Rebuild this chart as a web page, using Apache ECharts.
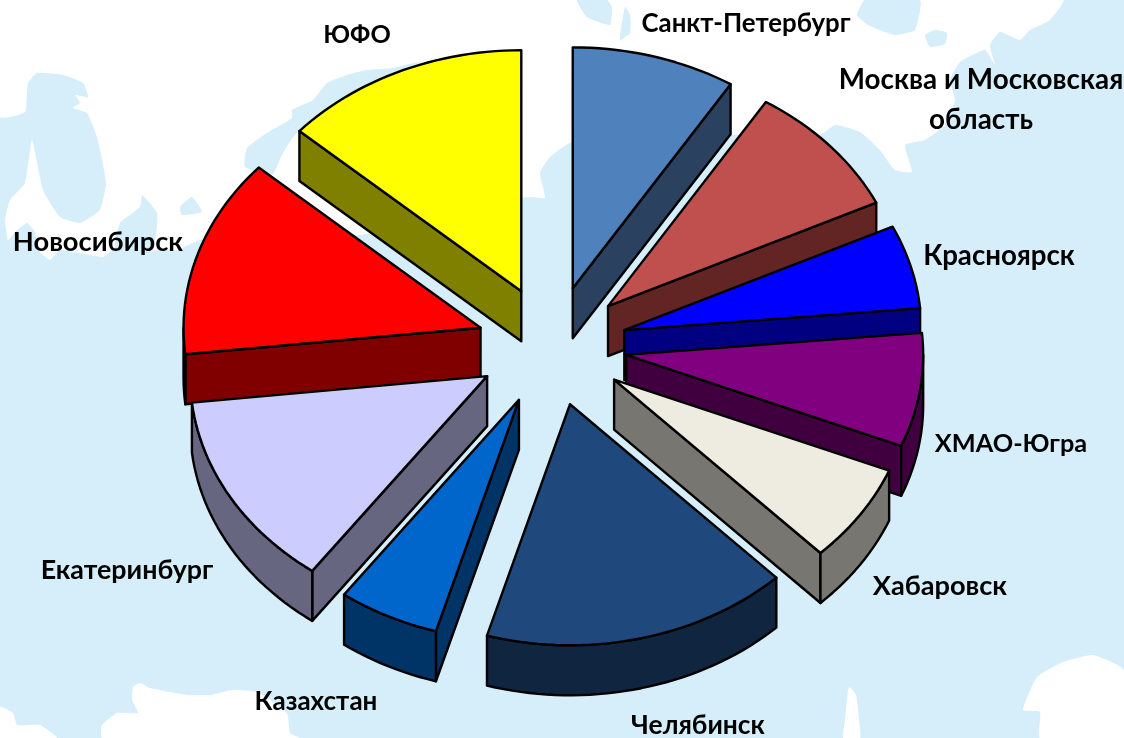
<!DOCTYPE html>
<html>
<head>
<meta charset="utf-8">
<title>Регионы</title>
<style>
  html, body { margin: 0; padding: 0; background: #d5eef9; }
  #chart { width: 1124px; height: 738px; }
</style>
<script src="https://cdn.jsdelivr.net/npm/echarts@6/dist/echarts.min.js"></script>
</head>
<body>
<div id="chart"></div>
<script>
// данные
const regions = ["Санкт-Петербург", "Москва и Московская\nобласть", "Красноярск", "ХМАО-Югра", "Хабаровск",
  "Челябинск", "Казахстан", "Екатеринбург", "Новосибирск", "ЮФО"];
const shares = [8.9, 9.0, 5.6, 7.6, 6.6, 16.7, 5.5, 13.2, 13.3, 13.4];

// цвета: верх и боковая стенка
const topColors = ["#4f81bd", "#c0504d", "#0000ff", "#800080", "#eeece1", "#1f497d", "#0066cc", "#ccccff", "#ff0000", "#ffff00"];
const wallColors = ["#2a4260", "#632523", "#000080", "#400040", "#777670", "#10253f", "#003366", "#666680", "#800000", "#808000"];

// положение и размер подписей
const labelAt = [[746, 24], [981, 100], [999, 256], [1011, 444], [940, 586], [698, 725], [316, 702], [127, 570], [98, 242], [357, 35]];
const labelSizes = [25.8, 27.8, 27.7, 25.3, 27.2, 26.4, 26, 26.8, 27.3, 25.2];

// геометрия псевдо-3D круга
const cx = 552, cy = 346;
const rx = 297, ry = 241;
const explodeX = 75, explodeY = 60;
const depth = 50;

const total = shares.reduce((a, b) => a + b, 0);
const slices = [];
let acc = 0;
shares.forEach(function (v) {
  let from = acc / total * Math.PI * 2;
  acc += v;
  let to = acc / total * Math.PI * 2;
  slices.push({ from: from, to: to, mid: (from + to) / 2 });
});

// дальние сектора рисуем первыми
const rank = [];
slices.map((s, i) => [Math.cos(s.mid), i]).sort((a, b) => b[0] - a[0]).forEach((p, n) => { rank[p[1]] = n; });

function renderSlice(params, api) {
  let i = params.dataIndex;
  let s = slices[i];
  let ax = cx + explodeX * Math.sin(s.mid);
  let ay = cy - explodeY * Math.cos(s.mid);
  let onRim = a => [ax + rx * Math.sin(a), ay - ry * Math.cos(a)];
  let down = p => [p[0], p[1] + depth];

  let rim = [];
  let steps = Math.ceil((s.to - s.from) / 0.03);
  for (let k = 0; k <= steps; k++) rim.push(onRim(s.from + (s.to - s.from) * k / steps));

  // видимая часть внешней стенки: только нижняя половина эллипса
  let lo = Math.max(s.from, Math.PI / 2), hi = Math.min(s.to, Math.PI * 1.5);
  let front = [];
  if (hi > lo) {
    let n = Math.ceil((hi - lo) / 0.03);
    for (let k = 0; k <= n; k++) front.push(onRim(lo + (hi - lo) * k / n));
  }

  let apex = [ax, ay];
  let a0 = rim[0], a1 = rim[rim.length - 1];
  let z = rank[i] * 10 + 10;
  let line = { stroke: "#000", lineWidth: 2.4, lineJoin: "round" };
  let wallStyle = Object.assign({ fill: wallColors[i] }, line);
  let children = [];
  // радиальные стенки: только те, что повёрнуты к зрителю
  if (s.from > Math.PI) {
    children.push({ type: "polygon", z2: z, shape: { points: [apex, a0, down(a0), down(apex)] }, style: wallStyle });
  }
  if (s.to < Math.PI) {
    children.push({ type: "polygon", z2: z + 1, shape: { points: [apex, a1, down(a1), down(apex)] }, style: wallStyle });
  }
  if (front.length) {
    children.push({
      type: "polygon", z2: z + 2,
      shape: { points: front.concat(front.map(down).reverse()) },
      style: wallStyle
    });
  }
  children.push({
    type: "polygon", z2: z + 3,
    shape: { points: [apex].concat(rim) },
    style: Object.assign({ fill: topColors[i] }, line)
  });
  children.push({
    type: "text", z2: 500,
    style: {
      text: regions[i], x: labelAt[i][0], y: labelAt[i][1],
      textAlign: "center", textVerticalAlign: "middle",
      font: "700 " + labelSizes[i] + "px Lato, 'Open Sans', sans-serif", lineHeight: 40, fill: "#000"
    }
  });
  return { type: "group", children: children };
}

// фон: карта, суша белым поверх моря
const sea = "#d5eef9";
const land = (points) => ({ type: "polygon", silent: true, z: 0, shape: { points: points, smooth: 0.15 }, style: { fill: "#fff" } });
const water = (points) => ({ type: "polygon", silent: true, z: 1, shape: { points: points, smooth: 0.15 }, style: { fill: sea } });
const mapShapes = [
  land([[0, 0], [1063, 0], [1050, 20], [1030, 30], [1020, 40], [1000, 32], [990, 45], [995, 65], [985, 50], [960, 62], [950, 80],
    [955, 100], [945, 125], [925, 140], [905, 145], [912, 172], [895, 170], [880, 150], [860, 132], [835, 125], [820, 135],
    [730, 135], [572, 142], [550, 157], [540, 173], [545, 198], [533, 197], [520, 198], [360, 235], [200, 240], [177, 250],
    [113, 250], [103, 257], [60, 250], [50, 260], [38, 250], [35, 232], [27, 223], [15, 232], [8, 240], [5, 220], [10, 200],
    [25, 183], [32, 140], [43, 190], [60, 217], [80, 223], [100, 210], [106, 183], [97, 137], [87, 113], [73, 108], [80, 103],
    [75, 95], [88, 97], [83, 83], [63, 75], [37, 73], [28, 83], [25, 112], [0, 117]]),
  land([[133, 687], [140, 683], [150, 688], [187, 695], [210, 695], [233, 690], [257, 692], [287, 713], [290, 733], [300, 738],
    [102, 738], [102, 725], [117, 713], [138, 713], [132, 700]]),
  land([[0, 707], [13, 713], [17, 725], [40, 725], [57, 738], [0, 738]]),
  land([[848, 690], [850, 687], [856, 695], [860, 728], [860, 738], [843, 738], [845, 720]]),
  land([[1023, 710], [1037, 677], [1063, 662], [1093, 655], [1124, 670], [1124, 738], [1040, 738], [1040, 712]]),
  water([[865, 0], [857, 15], [868, 25], [895, 35], [915, 30], [920, 0]]),
  water([[925, 35], [935, 30], [947, 33], [945, 44], [930, 47]]),
  water([[577, 0], [587, 17], [610, 25], [612, 7], [607, 0]]),
  water([[625, 7], [620, 40], [630, 33], [630, 15]]),
  water([[420, 63], [393, 68], [367, 70], [347, 75], [327, 83], [313, 100], [292, 110], [292, 118], [267, 133], [247, 148],
    [245, 167], [272, 175], [283, 153], [300, 130], [420, 100]]),
  water([[192, 197], [202, 212], [182, 215], [180, 207]]),
  water([[142, 195], [157, 213], [156, 235], [150, 252], [115, 252], [120, 223], [140, 207]])
];

let myChart = echarts.init(document.getElementById("chart"));
myChart.setOption({
  backgroundColor: sea,
  animation: false,
  graphic: { elements: mapShapes },
  series: [{
    type: "custom",
    coordinateSystem: "none",
    z: 5,
    renderItem: renderSlice,
    data: shares.map((v, i) => ({ name: regions[i], value: [v] }))
  }]
});
</script>
</body>
</html>
